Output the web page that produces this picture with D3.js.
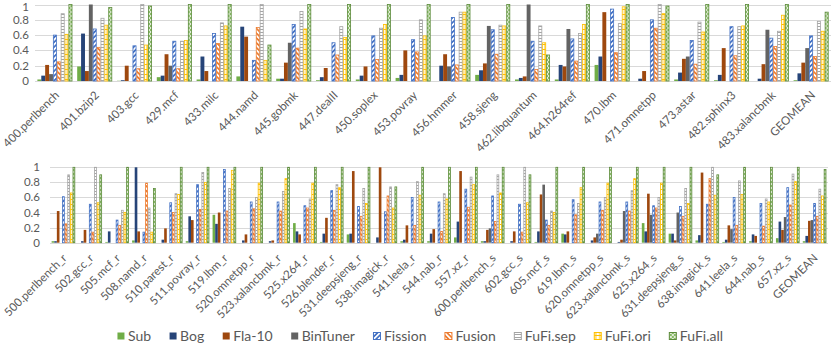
<!DOCTYPE html>
<html>
<head>
<meta charset="utf-8">
<script src="https://cdn.jsdelivr.net/npm/d3@7"></script>
<style>
  body { margin: 0; background: #fff; }
  text { font-family: Lato, "Open Sans", sans-serif; fill: #595959; }
</style>
</head>
<body>
<svg id="chart" width="831" height="345"></svg>
<script>
var series = ['Sub', 'Bog', 'Fla-10', 'BinTuner', 'Fission', 'Fusion', 'FuFi.sep', 'FuFi.ori', 'FuFi.all'];
var yTicks = [0, 0.2, 0.4, 0.6, 0.8, 1];

// SPEC CPU2006
var cats06 = ['400.perlbench', '401.bzip2', '403.gcc', '429.mcf', '433.milc', '444.namd', '445.gobmk',
  '447.dealII', '450.soplex', '453.povray', '456.hmmer', '458.sjeng', '462.libquantum', '464.h264ref',
  '470.lbm', '471.omnetpp', '473.astar', '482.sphinx3', '483.xalancbmk', 'GEOMEAN'];
var sub06      = [0.02, 0.19, 0.003, 0.05, 0.02, 0.06, 0.03, 0.01, 0.02, 0.04, 0, 0.08, 0.02, 0.02, 0.21, 0, 0.02, 0.01, 0, 0.01];
var bog06      = [0.07, 0.62, 0.01, 0.07, 0.32, 0.71, 0.03, 0.05, 0.07, 0.08, 0.2, 0.14, 0.04, 0.21, 0.32, 0.03, 0.11, 0.08, 0.03, 0.1];
var fla06      = [0.21, 0.13, 0.2, 0.35, 0.13, 0.58, 0.24, 0.17, 0.19, 0.4, 0.35, 0.23, 0.06, 0.19, 0.9, 0.13, 0.29, 0.43, 0.22, 0.24];
var binTuner06 = [0.09, 1.0, 0, 0.2, 0, 0, 0.5, 0, 0, 0, 0.19, 0.72, 1.0, 0.68, 0, 0, 0.32, 0, 0.67, 0.43];
var fission06  = [0.6, 0.68, 0.46, 0.52, 0.62, 0.27, 0.74, 0.5, 0.59, 0.54, 0.83, 0.67, 0.52, 0.55, 0.94, 0.8, 0.53, 0.71, 0.56, 0.59];
var fusion06   = [0.25, 0.44, 0.16, 0.16, 0.49, 0.7, 0.43, 0.34, 0.28, 0.38, 0.21, 0.35, 0.15, 0.26, 0.37, 0.69, 0.22, 0.33, 0.45, 0.32];
var fufiSep06  = [0.88, 0.82, 1.0, 0.52, 0.76, 1.0, 0.91, 0.71, 0.69, 0.8, 0.9, 0.73, 0.72, 0.62, 0.75, 1.0, 0.77, 0.71, 0.65, 0.78];
var fufiOri06  = [0.61, 0.73, 0.47, 0.53, 0.72, 0.27, 0.68, 0.57, 0.74, 0.59, 0.9, 0.72, 0.5, 0.74, 0.97, 0.88, 0.64, 0.72, 0.86, 0.65];
var fufiAll06  = [1, 0.96, 0.98, 1, 1, 0.47, 1, 1, 1, 1, 1, 1, 0.34, 1, 1, 0.98, 1, 1, 1, 0.9];

// SPEC CPU2017
var cats17 = ['500.perlbench_r', '502.gcc_r', '505.mcf_r', '508.namd_r', '510.parest_r', '511.povray_r',
  '519.lbm_r', '520.omnetpp_r', '523.xalancbmk_r', '525.x264_r', '526.blender_r', '531.deepsjeng_r',
  '538.imagick_r', '541.leela_r', '544.nab_r', '557.xz_r', '600.perlbench_s', '602.gcc_s', '605.mcf_s',
  '619.lbm_s', '620.omnetpp_s', '623.xalancbmk_s', '625.x264_s', '631.deepsjeng_s', '638.imagick_s',
  '641.leela_s', '644.nab_s', '657.xz_s', 'GEOMEAN'];
var sub17      = [0.02, 0, 0.01, 0.03, 0, 0.02, 0.37, 0, 0, 0.26, 0.01, 0.11, 0, 0.02, 0.02, 0.07, 0.02, 0, 0.01, 0.12, 0, 0, 0.26, 0.12, 0.03, 0.01, 0.02, 0.06, 0.02];
var bog17      = [0.02, 0.02, 0.15, 1.0, 0.04, 0.35, 0.25, 0.03, 0.02, 0.15, 0.12, 0.12, 0.07, 0.04, 0.12, 0.28, 0.02, 0.02, 0.15, 0.11, 0.03, 0.01, 0.15, 0.12, 0.1, 0.04, 0.11, 0.28, 0.09];
var fla17      = [0.42, 0.17, 0, 0.15, 0.19, 0.3, 0.4, 0.11, 0.03, 0.11, 0.33, 0.95, 1.0, 0.23, 0.18, 0.95, 0.17, 0.15, 0.64, 0.15, 0.07, 0.04, 0.65, 0.03, 0.93, 0.23, 0.09, 0.17, 0.29];
var binTuner17 = [0, 0, 0, 0, 0, 0, 0, 0, 0, 0, 0, 0, 0, 0, 0, 0, 0.19, 0, 0.77, 0, 0.12, 0.42, 0.37, 0.4, 0, 0.18, 0, 0.34, 0.3];
var fission17  = [0.61, 0.51, 0.3, 0.14, 0.53, 0.77, 0.97, 0.54, 0.54, 0.49, 0.69, 0.48, 0.41, 0.6, 0.54, 0.71, 0.62, 0.51, 0.3, 0.57, 0.54, 0.54, 0.49, 0.48, 0.51, 0.6, 0.52, 0.73, 0.52];
var fusion17   = [0.25, 0.14, 0.23, 0.79, 0.4, 0.44, 0.42, 0.45, 0.42, 0.46, 0.43, 0.35, 0.62, 0.23, 0.15, 0.47, 0.28, 0.14, 0.23, 0.37, 0.43, 0.42, 0.46, 0.35, 0.85, 0.23, 0.22, 0.5, 0.35];
var fufiSep17  = [0.9, 1.0, 0.43, 0.46, 0.65, 0.93, 0.72, 0.6, 0.68, 0.58, 0.77, 0.72, 0.74, 0.81, 0.65, 0.87, 0.9, 1.0, 0.42, 0.52, 0.6, 0.69, 0.6, 0.72, 1.0, 0.82, 0.58, 0.91, 0.71];
var fufiOri17  = [0.66, 0.53, 0.4, 0.14, 0.64, 0.8, 0.96, 0.79, 0.85, 0.79, 0.73, 0.52, 0.46, 0.63, 0.58, 0.77, 0.66, 0.53, 0.4, 0.73, 0.79, 0.85, 0.79, 0.52, 0.63, 0.64, 0.54, 0.81, 0.62];
var fufiAll17  = [1, 0.9, 1, 0.72, 1, 1, 1, 1, 1, 1, 1, 1, 0.74, 1, 1, 1, 1, 0.9, 1, 1, 1, 1, 1, 1, 0.9, 1, 1, 1, 0.97];

var values06 = [sub06, bog06, fla06, binTuner06, fission06, fusion06, fufiSep06, fufiOri06, fufiAll06];
var values17 = [sub17, bog17, fla17, binTuner17, fission17, fusion17, fufiSep17, fufiOri17, fufiAll17];

var svg = d3.select('#chart');
var defs = svg.append('defs');

// hatch patterns, roughly like the office pattern fills
function stripes(id, color, angle) {
  var p = defs.append('pattern').attr('id', id)
    .attr('patternUnits', 'userSpaceOnUse')
    .attr('width', 3.4).attr('height', 3.4)
    .attr('patternTransform', 'rotate(' + angle + ')');
  p.append('rect').attr('width', 3.4).attr('height', 3.4).attr('fill', '#fff');
  p.append('rect').attr('width', 1.7).attr('height', 3.4).attr('fill', color);
}
stripes('pFission', '#4472C4', 45);
stripes('pFusion', '#ED7D31', -45);

var pSep = defs.append('pattern').attr('id', 'pSep')
  .attr('patternUnits', 'userSpaceOnUse').attr('width', 4).attr('height', 3);
pSep.append('rect').attr('width', 4).attr('height', 3).attr('fill', '#fff');
pSep.append('rect').attr('y', 2).attr('width', 4).attr('height', 1).attr('fill', '#A5A5A5');

var pOri = defs.append('pattern').attr('id', 'pOri')
  .attr('patternUnits', 'userSpaceOnUse').attr('width', 4).attr('height', 5);
pOri.append('rect').attr('width', 4).attr('height', 5).attr('fill', '#fff');
pOri.append('rect').attr('y', 4).attr('width', 4).attr('height', 1).attr('fill', '#FFC000');
pOri.append('rect').attr('x', 1.5).attr('width', 1).attr('height', 5).attr('fill', '#FFC000');

var pAll = defs.append('pattern').attr('id', 'pAll')
  .attr('patternUnits', 'userSpaceOnUse').attr('width', 4).attr('height', 4);
pAll.append('rect').attr('width', 4).attr('height', 4).attr('fill', '#E2EBD8');
pAll.append('path').attr('d', 'M0,0L4,4M4,0L0,4').attr('stroke', '#70AD47').attr('stroke-width', 0.8);

var fills = ['#70AD47', '#264478', '#9E480E', '#636363', 'url(#pFission)', 'url(#pFusion)', 'url(#pSep)', 'url(#pOri)', 'url(#pAll)'];
var strokes = [null, null, null, null, '#4472C4', '#ED7D31', '#A5A5A5', '#FFC000', '#5B8A3A'];

function drawPanel(cats, values, left, right, top, bottom, tickX, fontSize, labDx, labDy) {
  var rows = cats.map(function(c, i) {
    return { cat: c, vals: values.map(function(s, k) { return { k: k, v: s[i] }; }) };
  });

  var x0 = d3.scaleBand().domain(cats).range([left, right])
    .paddingInner(0.12).paddingOuter(0.06);
  var x1 = d3.scaleBand().domain(d3.range(series.length)).range([0, x0.bandwidth()]);
  var y = d3.scaleLinear().domain([0, 1]).range([bottom, top]);

  var g = svg.append('g');

  g.selectAll('.grid').data(yTicks).enter().append('line')
    .attr('x1', left).attr('x2', right)
    .attr('y1', function(d) { return Math.round(y(d)) + 0.5; })
    .attr('y2', function(d) { return Math.round(y(d)) + 0.5; })
    .attr('stroke', '#D9D9D9');

  // top label nudged down a little so it stays inside the picture
  g.selectAll('.ylab').data(yTicks).enter().append('text')
    .attr('x', tickX).attr('y', function(d) { return Math.max(y(d), 7); })
    .attr('dy', '0.35em')
    .attr('text-anchor', 'end')
    .attr('font-size', 11.5)
    .text(function(d) { return d; });

  var grp = g.selectAll('.grp').data(rows).enter().append('g')
    .attr('transform', function(d) { return 'translate(' + x0(d.cat) + ',0)'; });

  grp.selectAll('rect').data(function(d) { return d.vals.filter(function(e) { return e.v > 0; }); })
    .enter().append('rect')
    .attr('x', function(d) { return x1(d.k) + (strokes[d.k] ? 0.4 : 0); })
    .attr('width', function(d) { return x1.bandwidth() - (strokes[d.k] ? 0.8 : 0); })
    .attr('y', function(d) { return y(d.v); })
    .attr('height', function(d) { return y(0) - y(d.v); })
    .attr('fill', function(d) { return fills[d.k]; })
    .attr('stroke', function(d) { return strokes[d.k]; })
    .attr('stroke-width', 0.8);

  g.selectAll('.xlab').data(cats).enter().append('text')
    .attr('text-anchor', 'end')
    .attr('font-size', fontSize)
    .attr('transform', function(d) {
      var cx = x0(d) + x0.bandwidth() / 2 + labDx;
      return 'translate(' + cx + ',' + (bottom + labDy) + ') rotate(-45)';
    })
    .text(function(d) { return d; });
}

drawPanel(cats06, values06, 35, 831, 4.5, 81, 29, 11.6, 5, 15);
drawPanel(cats17, values17, 50, 828, 167.3, 242.7, 40, 11.5, 4, 16);

// legend
var legend = svg.append('g');
var items = legend.selectAll('g').data(series).enter().append('g');
items.append('rect')
  .attr('x', 0.5).attr('y', -8.5).attr('width', 7).attr('height', 7)
  .attr('fill', function(d, i) { return fills[i]; })
  .attr('stroke', function(d, i) { return strokes[i]; });
items.append('text')
  .attr('x', 11).attr('y', 0)
  .attr('font-size', 14)
  .text(function(d) { return d; });

var pos = 0, offsets = [];
items.each(function() {
  offsets.push(pos);
  pos += 11 + d3.select(this).select('text').node().getComputedTextLength() + 18;
});
var legendLeft = 420 - (pos - 18) / 2;
items.attr('transform', function(d, i) { return 'translate(' + (legendLeft + offsets[i]) + ',341)'; });
</script>
</body>
</html>
